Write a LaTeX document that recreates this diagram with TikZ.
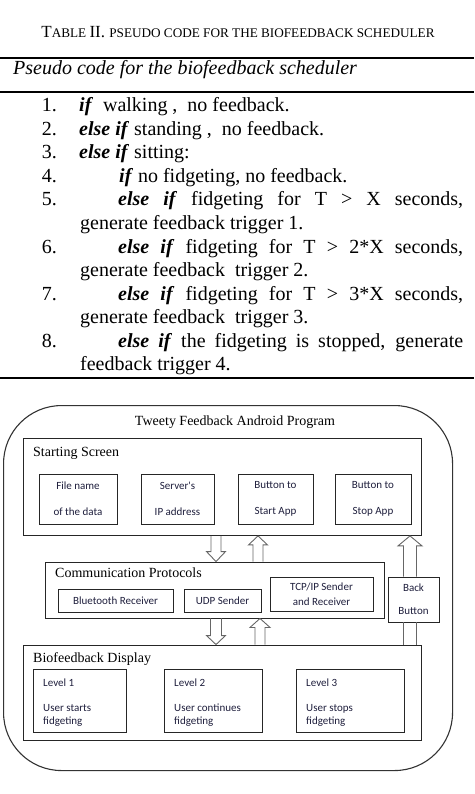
\documentclass[tikz,border=0pt]{standalone}
\usepackage{fontspec}
\setmainfont{Liberation Serif}
\newfontfamily\calfont{Carlito}
\usetikzlibrary{calc}
\definecolor{navytext}{RGB}{30,30,60}
\newcommand\kw[1]{\textbf{\textit{#1}}}
\newcommand\barrow[5]{%
  \draw[arr] let \p1=(#1), \p2=(#2), \p3=($(#2)!#5!(#1)$) in
    (\x1-#3,\y1) -- (\x1-#3,\y3) -- (\x1-#4,\y3) -- (\x2,\y2) -- (\x1+#4,\y3) -- (\x1+#3,\y3) -- (\x1+#3,\y1);}
\begin{document}
\begin{tikzpicture}[x=1pt,y=-1pt,
  box/.style={draw=black!85, line width=0.9pt, inner sep=0pt},
  outer/.style={draw=black!80, line width=1.1pt, rounded corners=58pt, inner sep=0pt},
  sans/.style={font=\calfont\fontsize{11}{13}\selectfont, text=navytext},
  lbl/.style={font=\fontsize{14}{16}\selectfont, inner sep=0pt, anchor=base west},
  code/.style={font=\fontsize{20}{22}\selectfont, inner sep=0pt, anchor=base west},
  num/.style={code, anchor=base east},
  lvl/.style={font=\calfont\fontsize{11}{13}\selectfont, text=navytext, inner sep=0pt, anchor=base west},
  arr/.style={draw=black!60, line width=0.9pt},
  rulethick/.style={line width=2.5pt},
  rulethin/.style={line width=1.6pt}]
\useasboundingbox (0,0) rectangle (474,794);

% ---------- table ----------
\node[anchor=base, inner sep=0pt] (title) at (238,38)
  {\fontsize{17}{18}\selectfont T\fontsize{13.2}{14}\selectfont ABLE \fontsize{17}{18}\selectfont II. \fontsize{13.2}{14}\selectfont PSEUDO CODE FOR THE BIOFEEDBACK SCHEDULER};
\draw[rulethick] (0,58) -- (474,58);
\node[anchor=base west, inner sep=0pt, font=\itshape\fontsize{20}{22}\selectfont] (hdr) at (13,75) {Pseudo code for the biofeedback scheduler};
\draw[rulethin] (0,92) -- (474,92);

\node[num] (n1) at (57,112) {1.};
\node[code] (t1) at (79,112) {\kw{if} \ walking , \ no feedback.};
\node[num] (n2) at (57,135.5) {2.};
\node[code] (t2) at (79,135.5) {\kw{else if} standing , \ no feedback.};
\node[num] (n3) at (57,159) {3.};
\node[code] (t3) at (79,159) {\kw{else if} sitting:};
\node[num] (n4) at (57,182.5) {4.};
\node[code] (t4) at (119,182.5) {\kw{if} no fidgeting, no feedback.};
\node[num] (n5) at (57,206) {5.};
\node[code] (t5) at (118,206) {\makebox[345pt][s]{\kw{else if} fidgeting for T > X seconds,}};
\node[code] (t5b) at (80,229.5) {generate feedback trigger 1.};
\node[num] (n6) at (57,253) {6.};
\node[code] (t6) at (118,253) {\makebox[345pt][s]{\kw{else if} fidgeting for T > 2*X seconds,}};
\node[code] (t6b) at (80,276.5) {generate feedback \ trigger 2.};
\node[num] (n7) at (57,300) {7.};
\node[code] (t7) at (118,300) {\makebox[345pt][s]{\kw{else if} fidgeting for T > 3*X seconds,}};
\node[code] (t7b) at (80,323.5) {generate feedback \ trigger 3.};
\node[num] (n8) at (57,347) {8.};
\node[code] (t8) at (118,347) {\makebox[345pt][s]{\kw{else if} the fidgeting is stopped, generate}};
\node[code] (t8b) at (80,370.5) {feedback trigger 4.};
\draw[rulethick] (0,378) -- (474,378);

% ---------- diagram ----------
\node[outer, anchor=north west, minimum width=449pt, minimum height=365pt] (prog) at (3,405) {};
\node[anchor=base, inner sep=0pt, font=\fontsize{14}{16}\selectfont] (progt) at (235,425) {Tweety Feedback Android Program};

\node[box, anchor=north west, minimum width=398pt, minimum height=97pt] (ss) at (23,438) {};
\node[lbl] (sst) at (33,456) {Starting Screen};
\node[box, sans, font=\calfont\fontsize{11}{26}\selectfont, align=center, minimum width=78pt, minimum height=50pt] (fn) at (78,499) {File name\\of the data};
\node[box, sans, font=\calfont\fontsize{11}{26}\selectfont, align=center, minimum width=73pt, minimum height=50pt] (ip) at (177.5,499) {Server's\\IP address};
\node[box, sans, font=\calfont\fontsize{11}{26}\selectfont, align=center, minimum width=75pt, minimum height=50pt] (start) at (275.5,499) {Button to\\Start App};
\node[box, sans, font=\calfont\fontsize{11}{26}\selectfont, align=center, minimum width=76pt, minimum height=50pt] (stop) at (373,499) {Button to\\Stop App};

\node[box, minimum width=339pt, minimum height=56pt] (comm) at (214.5,590) {};
\node[lbl] (commt) at (55,577) {Communication Protocols};
\node[box, sans, minimum width=115pt, minimum height=23pt] (bt) at (115.5,600.5) {Bluetooth Receiver};
\node[box, sans, minimum width=77pt, minimum height=23pt] (udp) at (222.5,600.5) {UDP Sender};
\node[box, sans, font=\calfont\fontsize{11}{15}\selectfont, align=center, minimum width=103pt, minimum height=34pt] (tcp) at (321.5,594) {TCP/IP Sender\\and Receiver};
\node[box, sans, font=\calfont\fontsize{11}{23}\selectfont, align=center, minimum width=51pt, minimum height=45pt] (back) at (413.5,599.5) {Back\\Button};

\node[box, minimum width=398pt, minimum height=95pt] (disp) at (222,692.5) {};
\node[lbl] (dispt) at (33,662) {Biofeedback Display};
\node[box, minimum width=93pt, minimum height=63pt] (lv1) at (79.5,700.5) {};
\node[box, minimum width=98pt, minimum height=63pt] (lv2) at (213,700.5) {};
\node[box, minimum width=108pt, minimum height=63pt] (lv3) at (350,700.5) {};
\node[lvl] (lv1a) at (43,686) {Level 1};
\node[lvl] (lv1b) at (43,711) {User starts};
\node[lvl] (lv1c) at (43,724) {fidgeting};
\node[lvl] (lv2a) at (174,686) {Level 2};
\node[lvl] (lv2b) at (174,711) {User continues};
\node[lvl] (lv2c) at (174,724) {fidgeting};
\node[lvl] (lv3a) at (306,686) {Level 3};
\node[lvl] (lv3b) at (306,711) {User stops};
\node[lvl] (lv3c) at (306,724) {fidgeting};

% ---------- block arrows ----------
\coordinate (ax1) at (216,0);
\coordinate (ax2) at (258,0);
\coordinate (ax3) at (216,0);
\coordinate (ax4) at (260,0);
\coordinate (axb) at (410,0);
\barrow{ax1 |- ss.south}{ax1 |- comm.north}{5pt}{9.5pt}{10pt}
\barrow{ax2 |- comm.north}{ax2 |- ss.south}{5pt}{9.5pt}{9pt}
\barrow{ax3 |- comm.south}{ax3 |- disp.north}{5.5pt}{9.5pt}{9pt}
\barrow{ax4 |- disp.north}{ax4 |- comm.south}{5pt}{10pt}{9pt}
\barrow{axb |- back.north}{axb |- ss.south}{6.5pt}{12pt}{10pt}
\draw[arr] ($(axb |- disp.north)+(-6.5,0)$) -- ($(axb |- back.south)+(-6.5,0)$);
\draw[arr] ($(axb |- disp.north)+(6.5,0)$) -- ($(axb |- back.south)+(6.5,0)$);
\end{tikzpicture}
\end{document}
